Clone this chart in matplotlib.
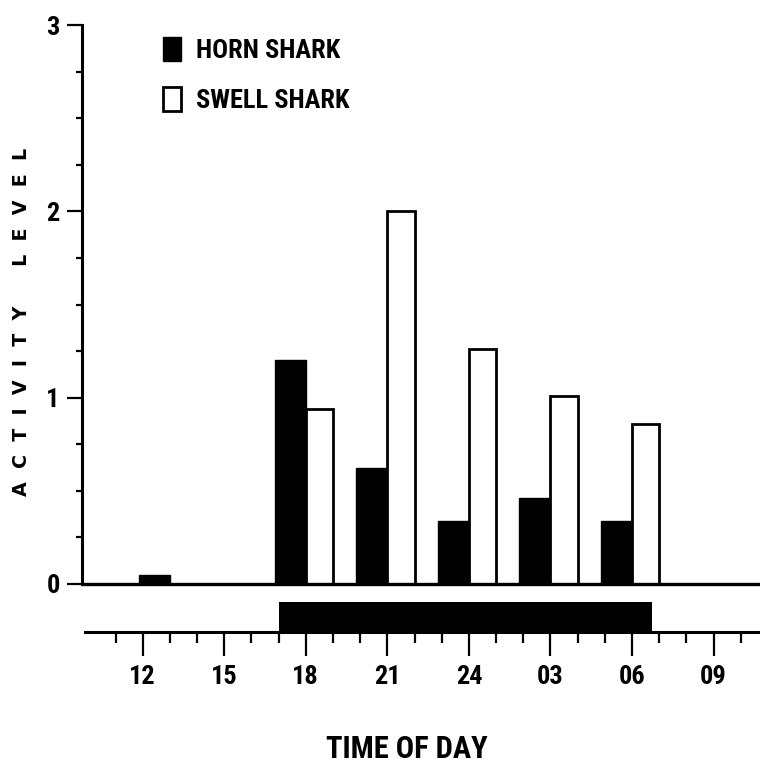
import matplotlib
matplotlib.use("Agg")
import matplotlib.pyplot as plt
from matplotlib import font_manager
from matplotlib.patches import Patch
from matplotlib.ticker import FixedLocator

# values (hours, 24 = midnight, 27 = 03h ...)
hour_ticks = [12, 15, 18, 21, 24, 27, 30, 33]
hour_labels = ["12", "15", "18", "21", "24", "03", "06", "09"]
horn_end = [13, 18, 21, 24, 27, 30]
horn_level = [0.05, 1.20, 0.62, 0.34, 0.46, 0.34]
swell_start = [18, 21, 24, 27, 30]
swell_level = [0.94, 2.00, 1.26, 1.01, 0.86]
dark_period = [17.0, 30.75]

# the lettering in the scan is very condensed, use a narrow font if there is one
entries = font_manager.fontManager.ttflist
fam = "DejaVu Sans"
for cand in ["Roboto Condensed", "Liberation Sans Narrow", "DejaVu Sans Condensed"]:
    if any(f.name == cand for f in entries):
        fam = cand
        break

W, H = 760, 769
fig = plt.figure(figsize=(W / 100, H / 100), dpi=100)
ax = fig.add_axes([82 / W, 1 - 632 / H, (W - 82) / W, (632 - 20) / H])
ax.set_xlim(9.767, 34.71)
ax.set_ylim(-0.2577, 3.027)

# horn shark bars end on the hour, swell shark bars start on it
ax.bar(horn_end, horn_level, width=-1.15, align="edge", color="black",
       edgecolor="black", linewidth=1, zorder=2)
ax.bar(swell_start, swell_level, width=1.0, align="edge", color="white",
       edgecolor="black", linewidth=2, zorder=2)
ax.axhline(0, color="black", linewidth=2.4, zorder=3)

# dark phase of the light cycle under the plot
ax.fill_between(dark_period, -0.2577, -0.097, color="black", linewidth=0)

for s in ["top", "right"]:
    ax.spines[s].set_visible(False)
ax.spines["left"].set_bounds(0, 3)
ax.spines["left"].set_linewidth(2.2)
ax.spines["bottom"].set_bounds(9.88, 34.71)
ax.spines["bottom"].set_linewidth(2.2)

ax.set_xticks(hour_ticks, hour_labels)
ax.xaxis.set_minor_locator(FixedLocator([h for h in range(11, 35) if h not in hour_ticks]))
ax.set_yticks([0, 1, 2, 3], ["0", "1", "2", "3"])
ax.yaxis.set_minor_locator(FixedLocator([i / 4 for i in range(1, 12) if i % 4]))
ax.tick_params(axis="x", which="major", length=17, width=1.6, pad=7)
ax.tick_params(axis="x", which="minor", length=8, width=1.6)
ax.tick_params(axis="y", which="major", length=11, width=1.6, pad=5)
ax.tick_params(axis="y", which="minor", length=4.5, width=1.6)
for lab in ax.get_xticklabels() + ax.get_yticklabels():
    lab.set_fontfamily(fam)
    lab.set_fontsize(19)
    lab.set_fontweight("bold")

fig.text(407 / W, 1 - 749 / H, "TIME OF DAY", ha="center", va="center",
         family=fam, fontsize=22, fontweight="bold")
fig.text(22 / W, 1 - 322 / H, "A  C  T  I  V  I  T  Y      L  E  V  E  L",
         ha="center", va="center", rotation=90, fontsize=13.7, fontweight="bold")

handles = [Patch(facecolor="black", edgecolor="black"),
           Patch(facecolor="white", edgecolor="black", linewidth=2)]
fs = 19
fpx = fs / 0.72
ax.legend(handles, ["HORN SHARK", "SWELL SHARK"], loc="upper left",
          bbox_to_anchor=(163 / W, 1 - 37 / H), bbox_transform=fig.transFigure,
          frameon=False, borderpad=0, borderaxespad=0,
          handlelength=18 / fpx, handleheight=27 / fpx, handletextpad=15 / fpx,
          labelspacing=(51 - 27) / fpx,
          prop={"family": fam, "size": fs, "weight": "bold"})

fig.savefig("out.png", dpi=100)
